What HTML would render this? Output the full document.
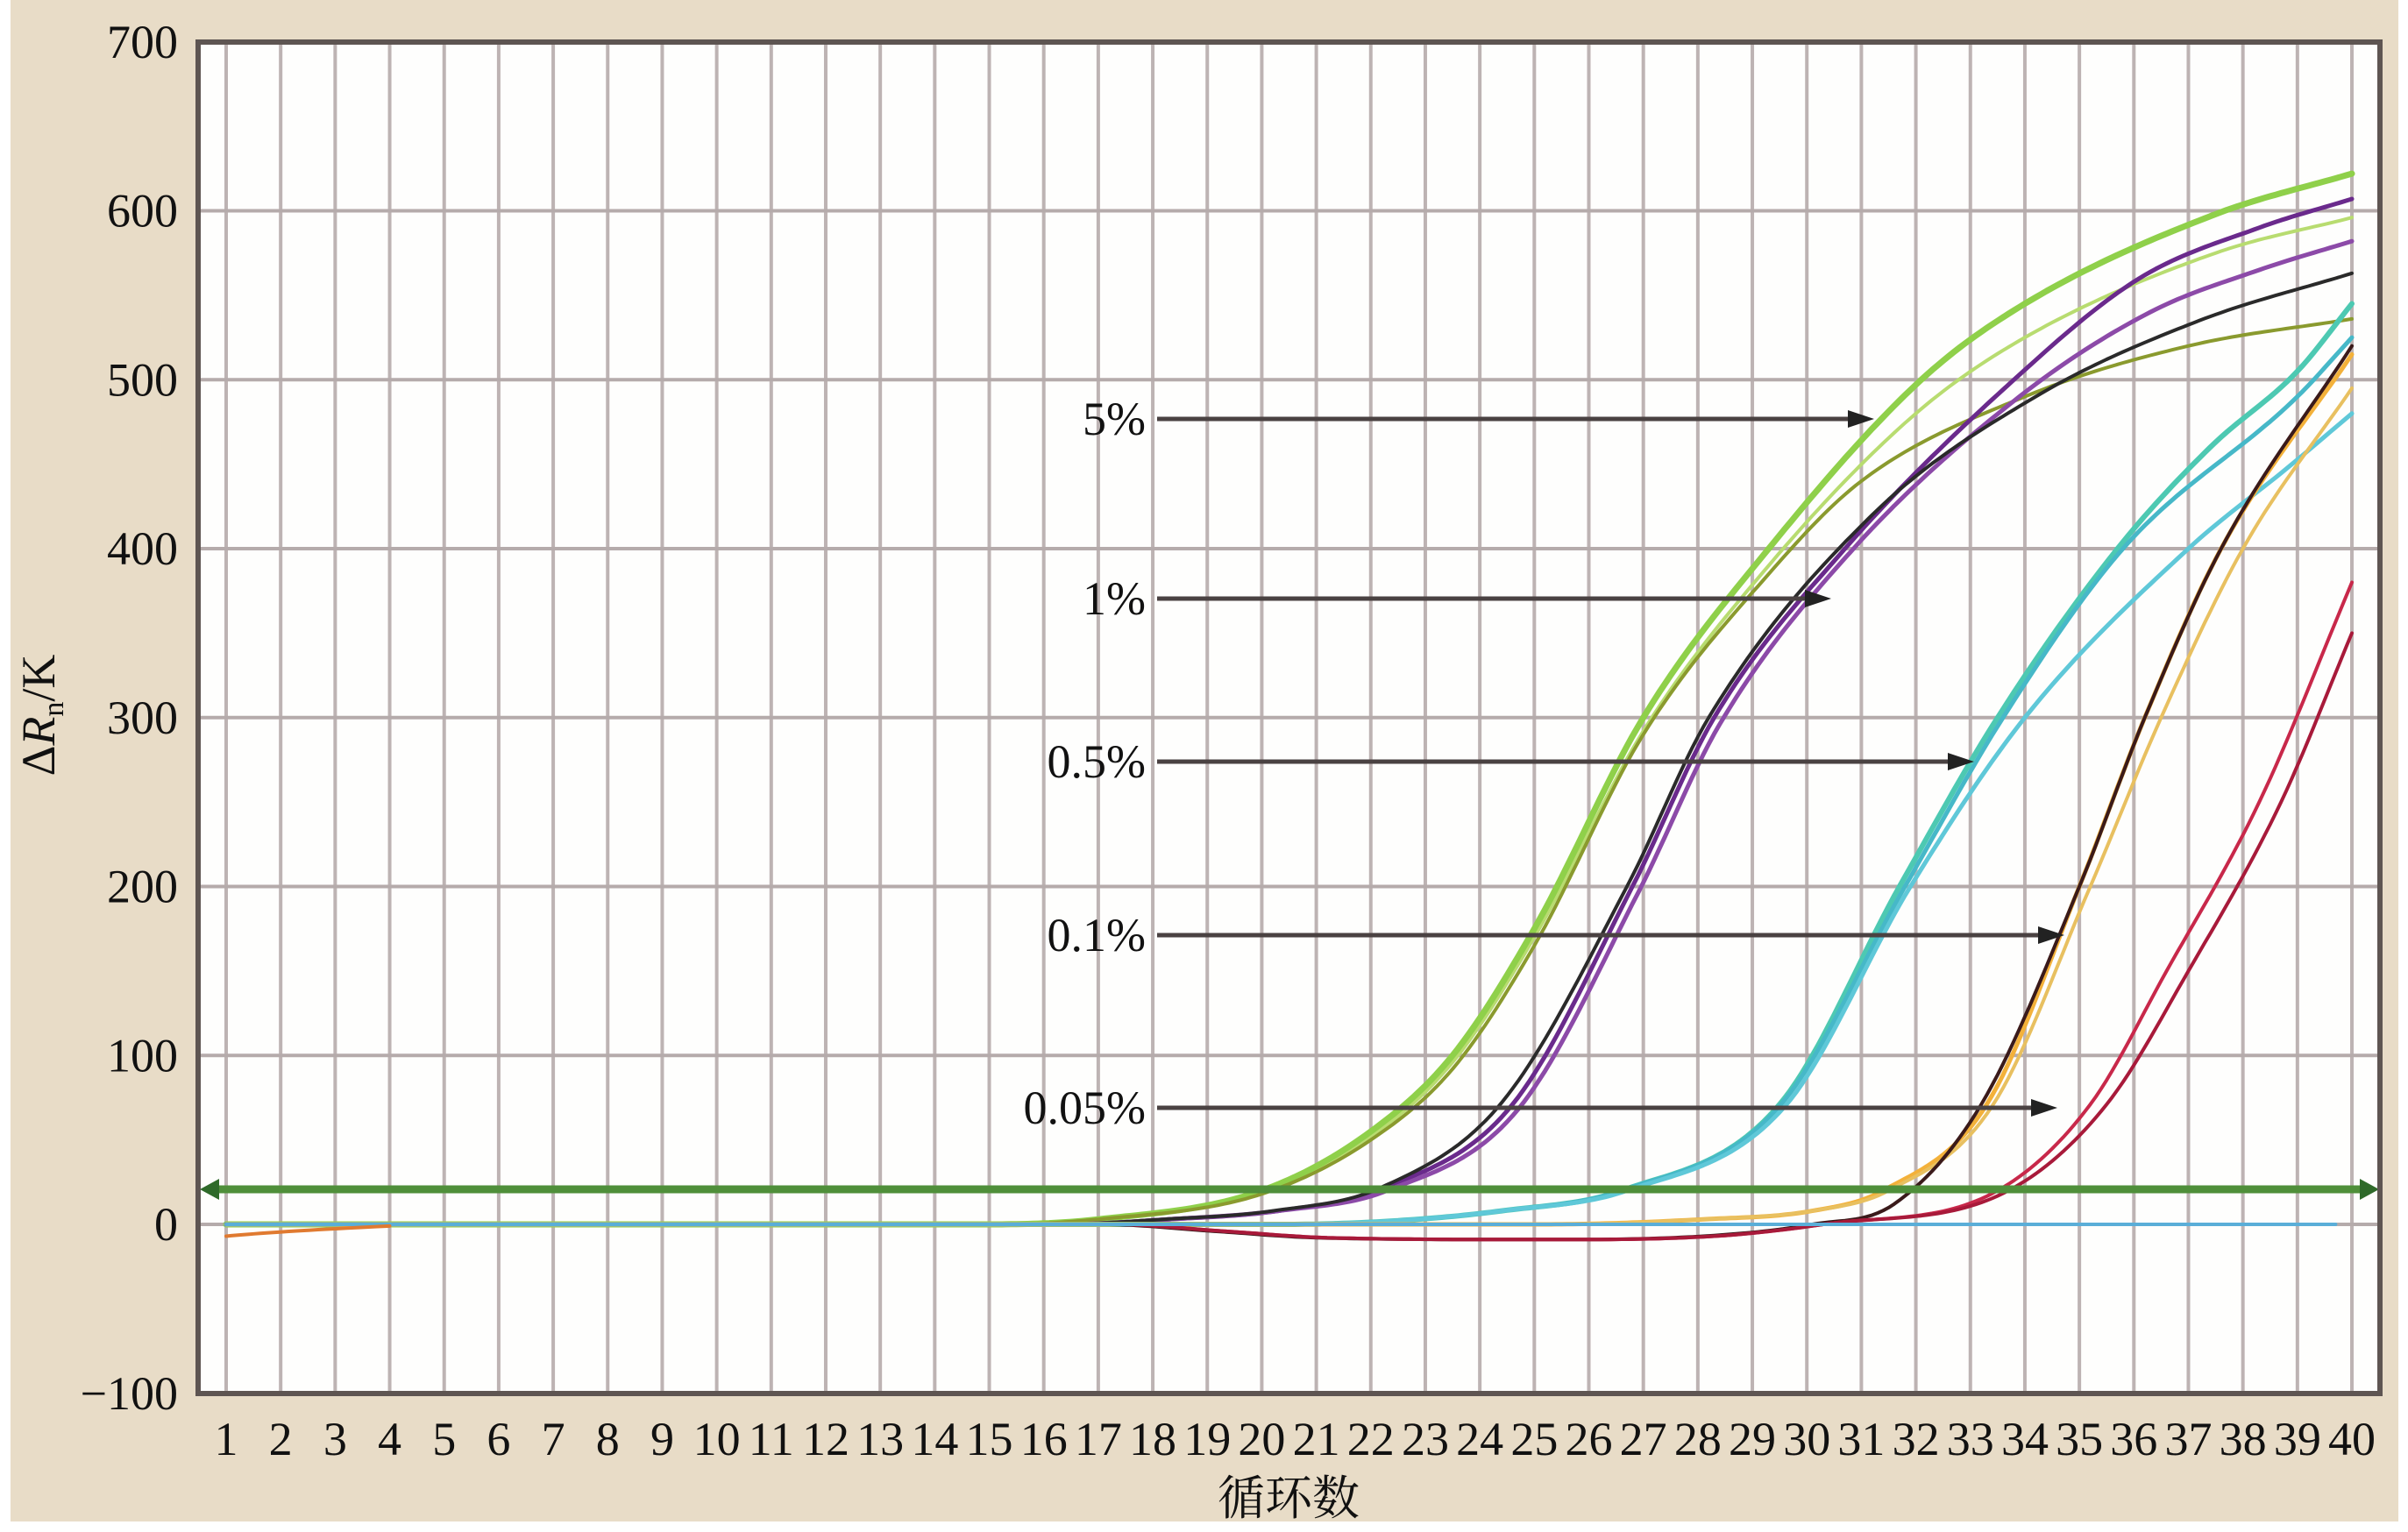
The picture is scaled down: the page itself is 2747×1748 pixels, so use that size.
<!DOCTYPE html>
<html><head><meta charset="utf-8"><style>
html,body{margin:0;padding:0;background:#fff;}
svg{display:block;}
text{font-family:"Liberation Serif","Noto Serif CJK SC",serif;fill:#111;}
</style></head><body>
<svg id="s" width="2747" height="1748" viewBox="0 0 2747 1748" xmlns="http://www.w3.org/2000/svg">
<rect x="12" y="0" width="2724" height="1736" fill="#e8dcc7"/>
<rect x="226" y="48" width="2489" height="1542" fill="#fefefd"/>
<g id="grid"></g>
<g id="curves" fill="none" stroke-linecap="round" stroke-linejoin="round"></g>
<g id="thr"></g>
<rect x="226" y="48" width="2489" height="1542" fill="none" stroke="#5e5552" stroke-width="6"/>
<g id="labels"></g>
</svg>
<script>
const NS="http://www.w3.org/2000/svg";
const X=c=>258+(c-1)*62.18, Y=v=>1397-v*1.9275;
function el(t,a,p,txt){const e=document.createElementNS(NS,t);for(const k in a)e.setAttribute(k,a[k]);if(txt!==undefined)e.textContent=txt;document.getElementById(p).appendChild(e);return e;}
for(let c=1;c<=40;c++)el('line',{x1:X(c),x2:X(c),y1:48,y2:1590,stroke:'#bdb3b3','stroke-width':4},'grid');
for(let v=-100;v<=700;v+=100)el('line',{x1:226,x2:2715,y1:Y(v),y2:Y(v),stroke:'#b5abab','stroke-width':4},'grid');
function mono(pts,sh){sh=sh||0;pts=pts.map((p,i)=>[p[0]+(i>0&&i<pts.length-1?sh:0),p[1]]);const n=pts.length,xs=pts.map(p=>p[0]),ys=pts.map(p=>p[1]);const d=[],m=[];
 for(let i=0;i<n-1;i++)d.push((ys[i+1]-ys[i])/(xs[i+1]-xs[i]));
 m[0]=d[0];m[n-1]=d[n-2];for(let i=1;i<n-1;i++)m[i]=(d[i-1]*d[i]<=0)?0:(d[i-1]+d[i])/2;
 for(let i=0;i<n-1;i++){if(d[i]===0){m[i]=0;m[i+1]=0;continue;}const a=m[i]/d[i],b=m[i+1]/d[i],s=a*a+b*b;if(s>9){const t=3/Math.sqrt(s);m[i]=t*a*d[i];m[i+1]=t*b*d[i];}}
 return c=>{let i=0;while(i<n-2&&c>xs[i+1])i++;const h=xs[i+1]-xs[i],t=(c-xs[i])/h,t2=t*t,t3=t2*t;
  return (2*t3-3*t2+1)*ys[i]+(t3-2*t2+t)*h*m[i]+(-2*t3+3*t2)*ys[i+1]+(t3-t2)*h*m[i+1];};}
const G=[[1,0],[15,0],[17,3],[20,20],[22,55],[23.5,100],[25,175],[27,300],[29.3,400],[32.1,500],[34,545],[37.5,598],[40,622]];
const series=[
 ['#b8dc70',mono([[1,0],[15,0],[17,3],[20,19],[22,52],[23.5,96],[25,170],[27,292],[29.3,390],[32,480],[34,525],[37.5,575],[40,596]]),4],
 ['#8fd04a',mono(G),7],
 ['#8a9a2e',mono([[1,0],[15,0],[17,3],[20,18],[22,50],[23.5,92],[25,165],[27,290],[29.3,385],[31,440],[34,490],[37,520],[40,536]]),4],
 ['#6a2a8c',mono([[1,0],[16,0],[18,3],[20,8],[22,22],[24.3,71],[26.5,200],[28,300],[30.4,400],[33.5,500],[35.8,560],[38,590],[40,607]],0.3),5],
 ['#8c4aa8',mono([[1,0],[16,0],[18,3],[20,8],[22,20],[24.4,68],[26.6,196],[28.1,296],[30.5,398],[33.6,490],[36,540],[38,565],[40,582]],0.3),5],
 ['#2a2a2a',mono([[1,0],[16,0],[18,3],[20,8],[22,22],[24.2,72],[26.5,200],[28,300],[31,420],[34,490],[37,535],[40,563]],0.2),4],
 ['#4dc9b2',mono([[1,0],[20,0],[22,2],[24,8],[26.2,20],[29.1,71],[31.3,200],[33.1,300],[35.3,400],[37,460],[38.6,505],[40,545]],0.4),6],
 ['#46b8c8',mono([[1,0],[20,0],[22,2],[24,8],[26.2,20],[29.1,70],[31.4,200],[33.2,300],[35.4,400],[38.6,490],[40,525]],0.4),5],
 ['#5fc8d8',mono([[1,0],[20,0],[22,2],[24,8],[26.3,20],[29.2,70],[31.5,200],[33.6,300],[36.6,400],[38.5,450],[40,480]],0.4),5],
 ['#f3b13a',mono([[1,0],[25,0],[28,3],[30,8],[31.3,20],[33.2,71],[34.9,200],[36.1,300],[37.5,400],[40,515]],0.1),5],
 ['#e8c060',mono([[1,0],[25,0],[28,3],[30,8],[31.4,20],[33.3,70],[35.1,200],[36.4,300],[37.9,400],[40,495]],0.1),4],
 ['#3a1a1a',mono([[1,0],[17,0],[19,-4],[21,-8],[25,-9],[28,-7],[30,0],[31.5,12],[33.1,71],[34.9,200],[36.1,300],[37.5,400],[40,520]],0.1),4],
 ['#c8284a',mono([[1,0],[17,0],[19,-4],[21,-8],[25,-9],[28,-7],[30,0],[33.2,20],[34.9,71],[36.3,150],[38,250],[40,380]],0.3),4],
 ['#a81a3a',mono([[1,0],[17,0],[19,-4],[21,-8],[25,-9],[28,-7],[30,0],[33.4,20],[35.2,71],[36.7,150],[38.4,250],[40,350]],0.3),4],
];
for(const [col,f,w] of series){let d='';for(let c=1;c<=40.001;c+=0.1){d+=(d?'L':'M')+X(c).toFixed(1)+','+Y(f(c)).toFixed(1);}el('path',{d,stroke:col,'stroke-width':w},'curves');}
el('line',{x1:X(1),x2:X(39.7),y1:Y(0),y2:Y(0),stroke:'#5aaed8','stroke-width':4},'curves');
el('path',{d:`M${X(1)},${Y(-7)} Q${X(2)},${Y(-4)} ${X(4)},${Y(-1)}`,stroke:'#e07a30','stroke-width':4},'curves');
el('line',{x1:238,x2:2704,y1:1357,y2:1357,stroke:'#4f8f3a','stroke-width':9},'thr');
el('path',{d:'M228,1357 L250,1345 L250,1369Z',fill:'#2f6a2a'},'thr');
el('path',{d:'M2714,1357 L2692,1345 L2692,1369Z',fill:'#2f6a2a'},'thr');
const arr=[['5%',478,2138],['1%',683,2089],['0.5%',869,2252],['0.1%',1067,2355],['0.05%',1264,2347]];
for(const [t,y,x2] of arr){
 el('line',{x1:1320,x2:x2-20,y1:y,y2:y,stroke:'#4a4242','stroke-width':5},'labels');
 el('path',{d:`M${x2},${y} L${x2-30},${y-10} L${x2-30},${y+10}Z`,fill:'#222'},'labels');
 el('text',{x:1307,y:y+18,'text-anchor':'end','font-size':54},'labels',t);
}
for(let v=-100;v<=700;v+=100)el('text',{x:203,y:Y(v)+18,'text-anchor':'end','font-size':54},'labels',v<0?'\u2212100':String(v));
for(let c=1;c<=40;c++)el('text',{x:X(c),y:1660,'text-anchor':'middle','font-size':54},'labels',String(c));
el('text',{x:1470,y:1728,'text-anchor':'middle','font-size':54},'labels','循环数');
const t=el('text',{x:0,y:0,'text-anchor':'middle','font-size':54,transform:'translate(62,816) rotate(-90)'},'labels');
t.innerHTML='Δ<tspan font-style="italic">R</tspan><tspan font-size="34" dy="10">n</tspan><tspan dy="-10">/K</tspan>';
</script>
</body></html>
